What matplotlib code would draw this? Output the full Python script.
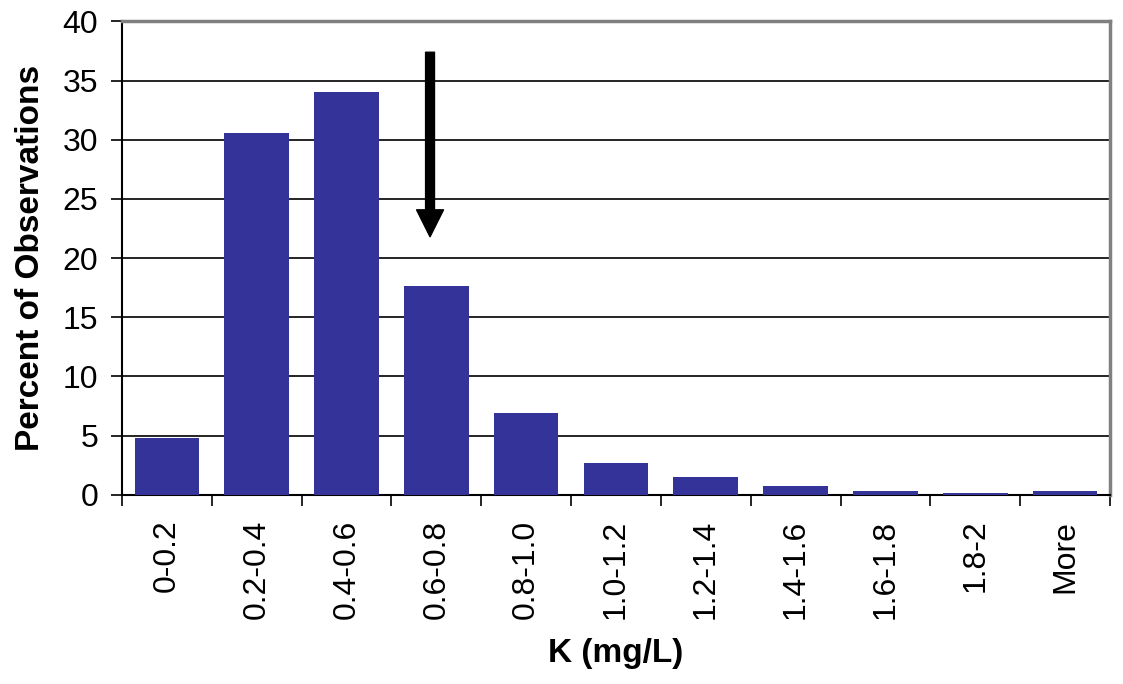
import matplotlib
matplotlib.use("Agg")
import matplotlib.pyplot as plt
import numpy as np

categories = ["0-0.2", "0.2-0.4", "0.4-0.6", "0.6-0.8", "0.8-1.0", "1.0-1.2",
              "1.2-1.4", "1.4-1.6", "1.6-1.8", "1.8-2", "More"]
percent = [4.8, 30.6, 34.0, 17.6, 6.9, 2.7, 1.5, 0.75, 0.3, 0.15, 0.3]
yticks = [0, 5, 10, 15, 20, 25, 30, 35, 40]
arrow_x = 2.93
arrow_top = 37.4
arrow_tip = 21.8

plt.rcParams['font.family'] = ['Liberation Sans', 'DejaVu Sans']

fig = plt.figure(figsize=(11.23, 6.84), dpi=100)
ax = fig.add_axes([0.1086, 0.2768, 0.8798, 0.6918])

x = np.arange(len(categories))
ax.bar(x, percent, width=0.72, color="#333399", zorder=3)

ax.set_xlim(-0.5, len(categories) - 0.5)
ax.set_ylim(0, 40)
ax.set_yticks(yticks)
ax.yaxis.grid(True, color="black", linewidth=1.2, zorder=0)
ax.set_axisbelow(True)

ax.set_xticks(np.arange(len(categories) + 1) - 0.5)
ax.set_xticklabels([])
ax.set_xticks(x, minor=True)
ax.set_xticklabels(categories, minor=True, rotation=90, fontsize=23)
ax.tick_params(axis='x', which='minor', length=0, pad=18)
ax.tick_params(axis='x', which='major', length=8, width=1.2, direction='out', color='black')
ax.tick_params(axis='y', length=8, width=1.2, direction='out', labelsize=23, pad=9)

for s in ['left', 'bottom']:
    ax.spines[s].set_color('black')
    ax.spines[s].set_linewidth(1.5)
for s in ['top', 'right']:
    ax.spines[s].set_color('#808080')
    ax.spines[s].set_linewidth(2.5)

ax.set_ylabel("Percent of Observations", fontsize=24, fontweight='bold', labelpad=12)
ax.set_xlabel("K (mg/L)", fontsize=24, fontweight='bold', labelpad=14)

ax.annotate('', xy=(arrow_x, arrow_tip), xytext=(arrow_x, arrow_top),
            arrowprops=dict(arrowstyle="simple,head_length=0.97,head_width=0.97,tail_width=0.32",
                            mutation_scale=20, color='black', shrinkA=0, shrinkB=0),
            zorder=5)

fig.savefig("out.png", dpi=100)
